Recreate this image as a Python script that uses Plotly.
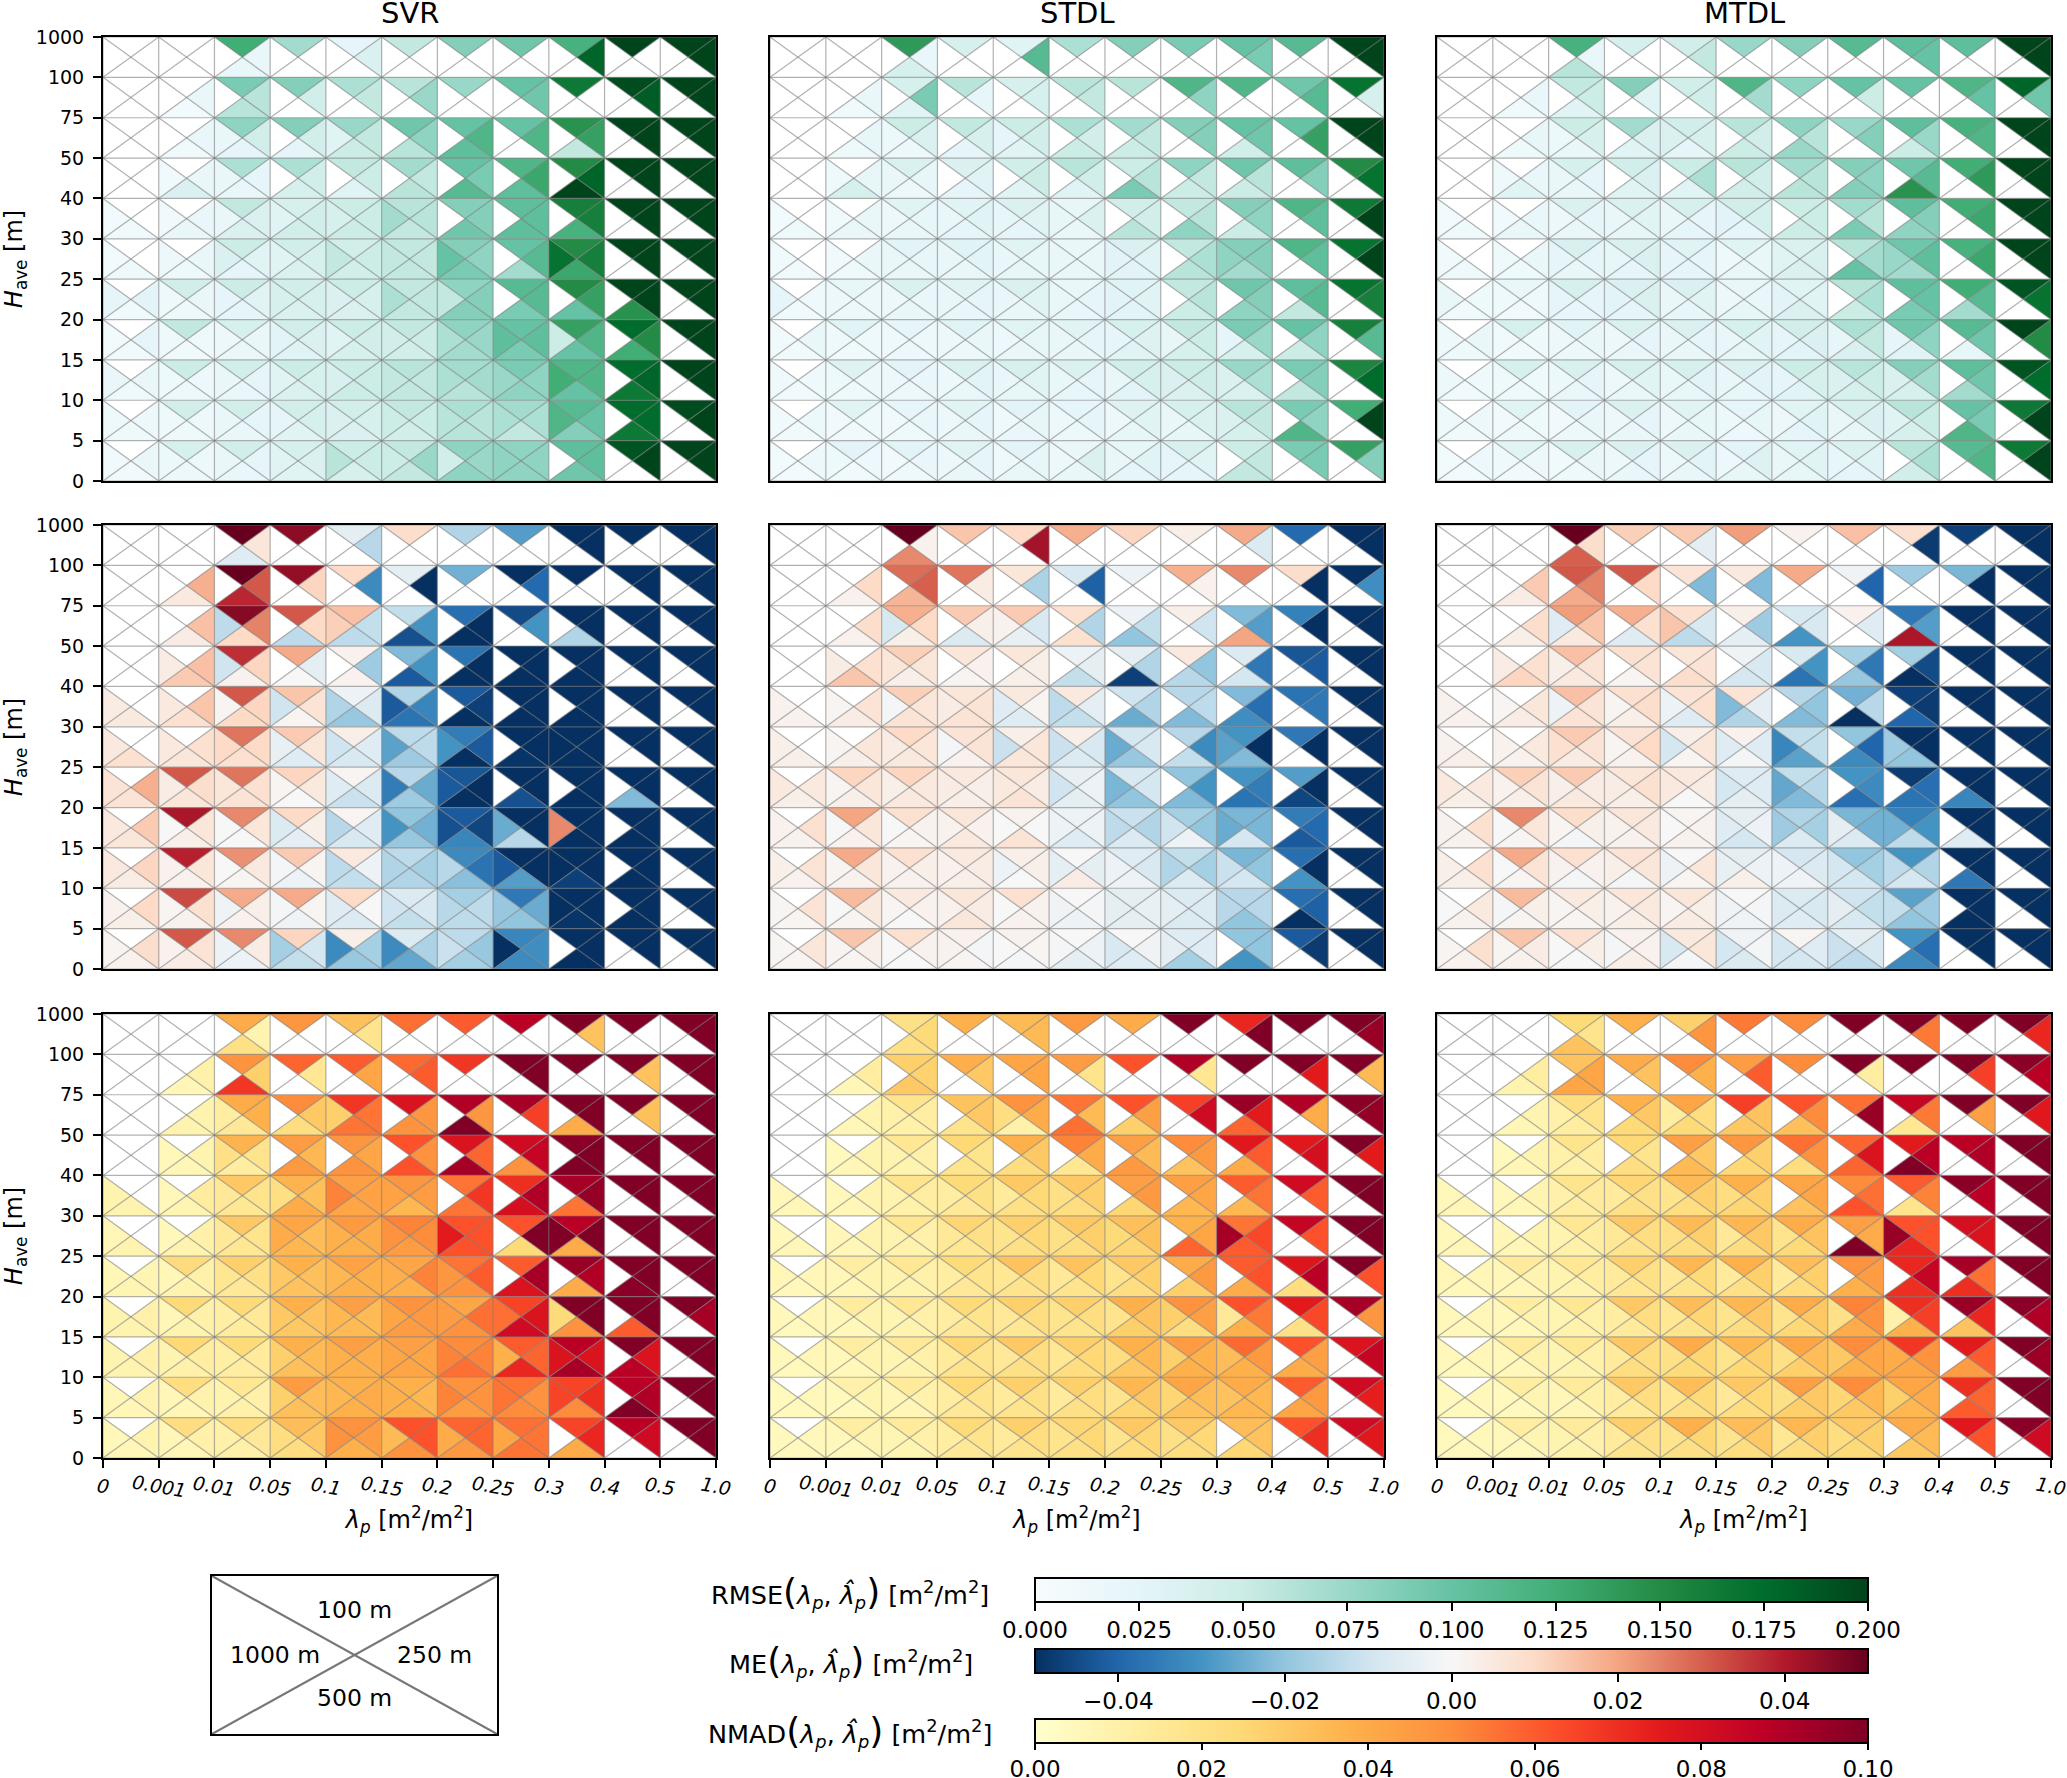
import plotly.graph_objects as go
from plotly.colors import get_colorscale, sample_colorscale

# Values are in thousandths of m2/m2. Each row (top band first) holds, per lambda_p cell,
# the triangles: top (100 m), right (250 m), bottom (500 m), left (1000 m). None = no data.
x_labels = ["0", "0.001", "0.01", "0.05", "0.1", "0.15", "0.2", "0.25", "0.3", "0.4", "0.5", "1.0"]
y_labels = ["0", "5", "10", "15", "20", "25", "30", "40", "50", "75", "100", "1000"]
model_names = ["SVR", "STDL", "MTDL"]
n = None
E = (n, n, n, n)

svr_rmse = [
 [*E,*E, 125,20,20,n, 70,n,n,n, 25,35,n,n, 55,n,n,n, 85,n,n,n, 95,n,n,n, 120,180,n,n, 200,n,n,n, 200,200,n,n],
 [*E, n,18,8,n, 90,60,60,n, 85,45,n,n, 65,55,n,n, 60,75,n,n, 75,n,n,n, 100,95,n,n, 165,n,n,n, 195,185,n,n, 200,200,n,n],
 [*E, n,20,10,n, 80,45,25,20, 85,45,25,n, 75,55,50,30, 95,80,60,n, 100,115,105,n, 100,115,n,n, 145,135,55,n, 200,200,n,n, 200,200,n,n],
 [*E, n,20,35,10, 65,25,20,18, 65,45,40,n, 55,50,30,n, 70,55,60,n, 100,90,110,n, 115,130,105,n, 150,180,200,n, 200,200,n,n, 200,200,n,n],
 [n,n,10,8, n,20,20,10, 55,35,35,18, 40,45,45,30, 50,50,50,40, 60,60,55,70, 85,85,95,n, 105,105,105,n, 160,160,120,n, 200,200,n,n, 200,200,n,n],
 [n,n,12,8, n,20,12,15, 50,30,25,35, 45,40,35,30, 45,50,45,55, 55,55,55,55, 85,80,90,100, 100,110,70,n, 150,160,130,170, 200,200,n,n, 200,200,n,n],
 [n,28,10,25, 45,20,12,12, 50,30,25,25, 45,40,35,40, 50,40,35,35, 55,55,55,65, 80,85,85,55, 110,110,90,n, 150,135,100,n, 200,200,145,n, 200,200,n,n],
 [n,25,10,8, 55,12,10,12, 40,20,18,15, 45,35,30,28, 50,45,40,30, 55,50,45,45, 80,75,70,65, 100,105,90,105, 135,115,100,50, 175,150,125,n, 200,200,n,n],
 [n,20,12,20, 50,15,15,12, 45,25,20,20, 50,40,35,30, 50,50,50,38, 60,55,55,55, 70,70,60,65, 90,80,80,75, 115,115,100,125, 175,180,165,n, 200,200,n,n],
 [n,15,12,12, 45,15,12,12, 45,25,18,20, 45,40,30,25, 45,40,35,35, 55,50,45,50, 65,60,60,60, 70,65,55,65, 110,100,85,115, 175,175,165,n, 195,200,n,n],
 [n,20,10,10, 40,15,15,15, 45,25,20,20, 40,35,30,30, 50,50,40,60, 55,75,55,50, 80,75,80,45, 80,80,80,80, 105,105,95,n, 190,200,n,n, 200,200,n,n],
]
stdl_rmse = [
 [*E,*E, 140,20,40,n, 40,n,n,n, 30,110,n,n, 65,n,n,n, 85,n,n,n, 90,n,n,n, 100,90,n,n, 110,n,n,n, 200,200,n,n],
 [*E, n,20,10,n, 40,90,30,n, 60,22,n,n, 40,40,n,n, 60,55,n,n, 60,n,n,n, 115,80,n,n, 115,n,n,n, 95,110,n,n, 170,40,n,n],
 [*E, n,22,12,n, 50,35,15,15, 55,40,25,n, 50,45,30,25, 65,45,50,n, 70,55,50,n, 85,85,n,n, 100,95,45,n, 100,135,n,n, 200,200,n,n],
 [*E, n,22,40,12, 35,22,15,18, 35,30,25,n, 45,50,30,n, 60,45,30,n, 50,60,90,n, 80,55,50,n, 95,60,50,n, 105,85,n,n, 150,170,n,n],
 [n,n,12,8, n,18,18,10, 30,22,18,14, 30,30,25,18, 35,30,25,22, 22,35,20,22, 45,45,60,n, 55,60,80,n, 85,80,50,n, 115,105,n,n, 165,200,n,n],
 [n,n,10,10, n,18,12,10, 28,22,18,18, 30,28,20,20, 30,22,22,20, 20,20,20,18, 35,30,28,28, 55,65,60,n, 85,85,70,80, 115,105,n,n, 170,200,n,n],
 [n,12,10,25, 22,15,15,15, 35,20,18,15, 30,25,20,18, 35,30,20,18, 20,25,20,18, 30,30,28,28, 55,60,50,n, 95,85,80,n, 105,110,55,n, 170,160,n,n],
 [n,18,10,10, 30,12,10,12, 25,14,15,12, 30,20,15,15, 30,22,18,15, 30,25,20,18, 40,32,30,25, 55,50,40,22, 90,75,40,25, 100,80,50,n, 160,110,n,n],
 [n,12,10,12, 32,15,12,12, 28,20,15,15, 35,28,18,15, 40,30,22,18, 35,25,22,20, 45,40,28,20, 50,48,35,35, 75,65,35,35, 90,85,55,n, 155,175,n,n],
 [n,15,10,10, 30,12,10,10, 25,18,12,10, 30,25,18,15, 28,22,18,12, 25,25,15,15, 32,30,22,15, 40,35,22,20, 60,55,40,35, 90,80,115,n, 125,200,n,n],
 [n,15,8,8, 28,15,10,12, 28,18,12,10, 30,25,20,15, 28,22,18,12, 20,35,18,15, 22,30,25,20, 38,30,25,25, 50,55,55,n, 90,90,n,n, 135,85,n,n],
]
mtdl_rmse = [
 [*E,*E, 120,18,60,n, 40,n,n,n, 45,55,n,n, 75,n,n,n, 85,n,n,n, 110,n,n,n, 105,100,n,n, 105,n,n,n, 200,200,n,n],
 [*E, n,20,10,n, 55,50,30,n, 85,30,n,n, 45,45,n,n, 115,70,n,n, 80,n,n,n, 100,50,n,n, 100,n,n,n, 115,100,n,n, 180,95,n,n],
 [*E, n,22,12,n, 50,40,18,15, 70,35,30,n, 45,40,25,35, 60,45,50,n, 80,60,75,n, 75,85,n,n, 105,75,50,n, 120,115,n,n, 200,200,n,n],
 [*E, n,20,30,12, 40,25,20,20, 45,35,30,n, 50,65,30,n, 60,45,45,n, 70,60,60,n, 85,80,85,n, 95,110,145,n, 125,140,n,n, 200,200,n,n],
 [n,n,12,8, n,18,18,10, 35,25,18,14, 35,30,22,18, 40,25,25,18, 45,40,25,28, 50,50,50,n, 70,60,90,n, 105,85,80,n, 125,130,n,n, 200,200,n,n],
 [n,n,12,10, n,20,12,12, 38,25,20,25, 35,35,25,22, 30,25,25,25, 30,20,20,12, 35,38,35,30, 60,70,100,n, 95,105,70,75, 120,130,n,n, 200,200,n,n],
 [n,12,10,18, 20,12,10,12, 40,25,20,25, 35,35,25,28, 35,30,22,20, 20,20,22,15, 30,30,35,28, 60,65,50,n, 105,100,90,n, 125,110,70,n, 190,170,n,n],
 [n,20,12,12, 40,12,10,10, 30,18,15,15, 35,25,18,15, 35,25,20,18, 40,30,22,20, 45,35,28,25, 65,55,35,22, 95,80,30,25, 110,95,22,n, 200,150,n,n],
 [n,12,10,15, 40,12,12,12, 38,25,18,15, 40,30,20,15, 40,28,22,18, 35,28,22,20, 50,40,30,25, 60,50,40,35, 85,70,40,35, 105,95,70,n, 190,175,n,n],
 [n,15,10,12, 30,12,12,10, 28,20,14,10, 35,25,18,14, 30,22,18,14, 25,22,15,15, 30,30,25,15, 40,35,22,18, 60,50,40,30, 100,90,115,n, 165,200,n,n],
 [n,15,8,8, 30,15,10,12, 38,20,12,10, 35,25,18,15, 35,28,20,14, 28,32,22,15, 30,30,22,20, 35,30,25,22, 60,65,45,n, 110,115,n,n, 165,200,n,n],
]
svr_me = [
 [*E,*E, 50,6,-6,n, 45,n,n,n, -5,-14,n,n, 9,n,n,n, -15,n,n,n, -28,n,n,n, -50,-50,n,n, -50,n,n,n, -50,-50,n,n],
 [*E, n,18,5,n, 50,31,38,n, 44,11,n,n, 10,-32,n,n, -5,-50,n,n, -24,n,n,n, -50,-39,n,n, -50,n,n,n, -50,-50,n,n, -50,-50,n,n],
 [*E, n,15,4,n, 46,25,10,-13, 31,10,-13,n, 15,-12,-13,12, -12,-30,-44,n, -38,-50,-50,n, -45,-30,n,n, -50,-50,-15,n, -50,-50,n,n, -50,-50,n,n],
 [*E, n,15,13,4, 37,11,2,-10, 19,-5,0,n, 2,-18,2,n, -22,-30,-42,n, -37,-50,-50,n, -50,-50,-50,n, -50,-50,-50,n, -50,-50,n,n, -50,-50,n,n],
 [n,n,5,4, n,14,8,5, 31,11,10,1, 14,7,1,-10, -3,-7,-19,-15, -15,-33,-37,-42, -42,-47,-50,n, -50,-50,-50,n, -50,-50,-50,n, -50,-50,n,n, -50,-50,n,n],
 [n,n,8,5, n,8,6,5, 27,10,8,10, 13,6,-6,-4, 3,-6,-8,-10, -13,-13,-18,-27, -35,-42,-50,-30, -50,-50,-49,n, -50,-50,-50,-50, -50,-50,n,n, -50,-50,n,n],
 [n,18,7,7, 31,9,6,4, 27,8,7,6, 11,5,0,1, 1,-7,-11,-6, -14,-25,-18,-35, -43,-50,-50,-42, -50,-50,-44,n, -50,-50,-50,n, -50,-50,-22,n, -50,-50,n,n],
 [n,13,6,5, 41,6,3,0, 24,6,0,0, 10,3,-5,-7, 1,-6,-8,-14, -20,-24,-19,-30, -42,-46,-33,-44, -50,-50,-14,-25, -50,-50,-50,24, -50,-50,-50,n, -50,-50,n,n],
 [n,11,4,5, 39,6,2,2, 23,5,1,0, 13,1,-3,-1, 5,-3,-12,-13, -13,-17,-15,-15, -32,-37,-21,-14, -50,-50,-28,-42, -50,-50,-47,-50, -50,-50,-50,n, -50,-50,n,n],
 [n,10,3,2, 33,8,2,1, 19,3,2,-2, 19,1,-2,-1, 10,0,-7,-6, -7,-8,-12,-10, -17,-13,-13,-14, -36,-25,-20,-19, -50,-50,-49,-50, -50,-50,-50,n, -50,-50,n,n],
 [n,9,2,1, 31,7,4,2, 24,4,-3,-3, 11,-9,-12,-17, 3,-17,-19,-32, -7,-16,-26,-32, -13,-19,-17,-11, -33,-31,-32,-50, -50,-50,-50,n, -50,-50,n,n, -50,-50,n,n],
]
stdl_me = [
 [*E,*E, 50,2,24,n, 14,n,n,n, 10,42,n,n, 18,n,n,n, 11,n,n,n, 3,n,n,n, 19,-7,n,n, -39,n,n,n, -50,-50,n,n],
 [*E, n,10,2,n, 28,30,17,n, 27,4,n,n, 6,-16,n,n, -8,-41,n,n, -3,n,n,n, 18,2,n,n, 24,n,n,n, 9,-50,n,n, -50,-31,n,n],
 [*E, n,9,2,n, 18,10,3,-8, 13,3,-7,n, 13,-8,-4,2, 8,-15,8,n, -3,-12,-20,n, 3,-10,n,n, -22,-28,20,n, -34,-50,n,n, -50,-50,n,n],
 [*E, n,8,14,4, 12,6,3,6, 6,2,1,n, 6,3,3,n, -3,-5,-12,n, -5,-15,-47,n, 5,-20,-14,n, -7,-36,-9,n, -43,-42,n,n, -50,-50,n,n],
 [n,n,2,2, n,7,4,1, 12,6,7,-1, 6,7,7,4, 5,1,-6,-6, 5,-5,-12,-13, -10,-15,-25,n, -14,-13,-22,n, -22,-38,-31,n, -37,-36,n,n, -50,-50,n,n],
 [n,n,3,3, n,6,3,1, 10,6,5,4, 7,7,2,-1, 3,6,6,-11, 3,-8,-7,-11, -9,-8,-19,-25, -14,-32,-12,n, -30,-50,-22,-27, -36,-50,n,n, -50,-50,n,n],
 [n,5,3,5, 11,6,3,1, 11,5,5,3, 5,3,3,4, 6,4,7,5, -4,-3,-5,-10, -8,-9,-20,-23, -20,-30,-22,n, -30,-35,-37,n, -28,-50,-46,n, -50,-50,n,n],
 [n,8,2,2, 20,6,2,0, 8,2,1,0, 6,2,5,2, 2,0,7,0, -3,-3,-6,-3, -11,-15,-7,-13, -17,-20,-3,-10, -23,-23,-9,-25, -35,-39,-42,n, -50,-50,n,n],
 [n,7,2,3, 19,6,2,1, 8,3,2,2, 5,4,3,2, 3,3,0,-3, 0,-5,4,-5, -6,-8,-3,-3, -12,-17,-7,-15, -23,-20,-9,-11, -38,-50,-30,n, -50,-50,n,n],
 [n,7,1,1, 16,5,1,0, 5,2,0,1, 6,4,6,2, 8,2,2,0, 0,-1,-3,-2, -5,-4,-5,-5, -7,-7,-7,-5, -14,-14,-20,-14, -38,-41,-50,n, -50,-50,n,n],
 [n,6,1,1, 14,3,1,1, 8,2,0,0, 2,-1,1,2, 2,1,-1,0, 0,-3,-5,-1, 0,-2,-6,-8, -6,-6,-17,-5, -20,-20,-30,n, -42,-48,n,n, -50,-50,n,n],
]
mtdl_me = [
 [*E,*E, 50,9,30,n, 12,n,n,n, 13,-5,n,n, 21,n,n,n, 2,n,n,n, 15,n,n,n, 8,-48,n,n, -47,n,n,n, -50,-50,n,n],
 [*E, n,13,4,n, 31,25,19,n, 31,10,n,n, 7,-22,n,n, 5,-22,n,n, 19,n,n,n, -2,-40,n,n, -18,n,n,n, -23,-50,n,n, -50,-50,n,n],
 [*E, n,9,3,n, 21,14,5,-6, 18,8,-6,n, 8,-8,-13,14, 3,-18,-5,n, -8,-8,-30,n, 2,-6,n,n, -36,-28,41,n, -50,-50,n,n, -50,-50,n,n],
 [*E, n,8,11,4, 15,7,5,3, 8,7,1,n, 6,7,9,n, -2,-8,-9,n, -8,-30,-37,n, -17,-36,-19,n, -17,-45,-50,n, -50,-50,n,n, -50,-50,n,n],
 [n,n,2,2, n,6,4,1, 15,7,7,-3, 8,9,3,1, 7,8,-6,-3, 7,-5,-15,-22, -14,-20,-22,n, -24,-14,-50,n, -47,-48,-40,n, -50,-50,n,n, -50,-50,n,n],
 [n,n,3,2, n,5,2,2, 13,7,4,8, 7,10,2,1, 3,6,1,-9, 2,-6,-1,-6, -12,-12,-27,-33, -20,-40,-32,n, -50,-50,-20,-18, -50,-50,n,n, -50,-50,n,n],
 [n,5,3,5, 12,7,3,2, 13,4,5,3, 6,8,3,4, 5,4,0,5, -6,-6,-5,-9, -12,-14,-22,-26, -30,-32,-38,n, -48,-38,-37,n, -50,-50,-33,n, -50,-50,n,n],
 [n,8,2,2, 24,6,1,0, 9,3,-1,1, 6,5,2,2, 1,2,2,0, -5,-3,-9,-6, -15,-17,-7,-18, -23,-24,-7,-5, -34,-30,-13,-24, -50,-50,-6,n, -50,-50,n,n],
 [n,8,3,3, 19,7,1,0, 8,2,-1,2, 7,6,-1,3, 0,6,1,-3, -5,-3,3,-4, -9,-7,-2,-3, -20,-17,-9,-9, -30,-15,-9,-13, -50,-50,-36,n, -50,-50,n,n],
 [n,5,2,0, 16,3,1,-1, 5,3,1,1, 6,5,3,2, 6,3,4,1, 0,-1,-2,-2, -7,-8,-6,-7, -10,-12,-8,-5, -27,-18,-20,-12, -50,-50,-50,n, -50,-50,n,n],
 [n,8,2,1, 14,4,2,1, 8,3,0,0, 2,2,3,-1, 5,6,-1,-8, -2,-1,-7,-9, 1,-6,-9,-9, -5,-8,-13,-11, -30,-38,-32,n, -50,-50,n,n, -50,-50,n,n],
]
svr_nmad = [
 [*E,*E, 40,8,20,n, 47,n,n,n, 33,18,n,n, 56,n,n,n, 60,n,n,n, 88,n,n,n, 100,32,n,n, 100,n,n,n, 100,100,n,n],
 [*E, n,10,6,n, 48,28,68,n, 58,16,n,n, 60,42,n,n, 57,60,n,n, 68,n,n,n, 100,100,n,n, 100,n,n,n, 100,32,n,n, 100,100,n,n],
 [*E, n,8,8,n, 40,38,15,12, 50,30,22,n, 68,55,55,28, 78,47,48,n, 90,47,100,n, 92,66,n,n, 100,100,40,n, 100,33,n,n, 100,100,n,n],
 [*E, n,8,6,5, 37,18,12,20, 45,36,46,n, 47,42,48,n, 62,48,62,n, 78,58,92,n, 82,85,48,n, 98,100,100,n, 100,100,n,n, 100,100,n,n],
 [n,n,8,8, n,13,7,5, 30,18,16,15, 37,33,40,21, 44,43,42,52, 47,45,36,43, 55,68,55,n, 70,90,80,n, 92,96,55,n, 100,100,n,n, 100,100,n,n],
 [n,n,8,6, n,10,8,5, 30,18,16,15, 42,34,36,40, 46,40,38,38, 52,50,45,48, 62,62,62,75, 62,100,24,n, 88,100,40,100, 100,100,n,n, 100,100,n,n],
 [n,7,7,6, 23,10,8,6, 28,20,15,17, 38,33,32,30, 43,38,38,36, 42,52,38,39, 55,60,48,47, 60,92,78,n, 95,90,40,n, 100,100,98,n, 100,100,n,n],
 [n,10,8,8, 24,10,8,6, 24,15,13,11, 38,32,30,30, 44,35,35,36, 48,46,45,42, 42,56,48,45, 65,78,82,56, 100,100,48,24, 100,100,60,n, 100,92,n,n],
 [n,10,8,8, 25,12,10,8, 24,14,12,11, 38,35,33,28, 44,39,38,38, 44,42,42,42, 50,52,56,52, 60,58,72,38, 88,78,92,78, 100,78,88,n, 100,100,n,n],
 [n,8,6,6, 22,9,6,6, 16,10,10,8, 45,34,33,28, 38,40,38,36, 38,36,38,38, 48,48,45,52, 55,48,50,55, 65,70,50,65, 88,90,100,n, 100,100,n,n],
 [n,8,6,5, 22,10,6,6, 22,15,10,10, 34,30,22,22, 48,45,38,48, 62,62,48,35, 58,58,46,40, 56,55,55,42, 65,72,40,n, 88,82,n,n, 100,100,n,n],
]
stdl_nmad = [
 [*E,*E, 20,24,20,n, 38,n,n,n, 35,35,n,n, 46,n,n,n, 40,n,n,n, 100,n,n,n, 72,100,n,n, 100,n,n,n, 100,95,n,n],
 [*E, n,12,6,n, 28,27,30,n, 39,30,n,n, 42,42,n,n, 45,18,n,n, 62,n,n,n, 90,16,n,n, 100,n,n,n, 100,75,n,n, 100,35,n,n],
 [*E, n,8,6,n, 18,12,10,10, 32,30,18,n, 48,40,10,22, 55,35,56,n, 62,44,28,n, 66,82,n,n, 95,75,58,n, 90,40,n,n, 98,96,n,n],
 [*E, n,8,6,4, 16,10,8,8, 25,18,18,n, 38,30,22,n, 52,40,16,n, 44,35,46,n, 50,46,32,n, 76,60,40,n, 76,80,n,n, 100,75,n,n],
 [n,n,6,5, n,8,6,5, 18,12,10,8, 24,20,15,12, 30,25,20,14, 30,28,22,20, 44,46,26,n, 44,42,36,n, 60,55,36,n, 82,60,n,n, 100,100,n,n],
 [n,n,6,5, n,8,6,6, 17,10,9,8, 26,20,16,15, 28,25,20,18, 30,28,22,20, 33,33,26,24, 38,42,58,n, 55,64,60,92, 85,62,n,n, 100,100,n,n],
 [n,6,5,6, 12,8,6,6, 16,10,8,8, 24,18,15,12, 32,22,18,16, 32,25,18,15, 30,28,22,18, 40,46,28,n, 60,62,40,n, 77,88,22,n, 100,62,n,n],
 [n,6,4,5, 13,8,5,5, 16,10,8,7, 24,18,15,12, 28,22,16,15, 28,22,18,18, 38,32,28,18, 48,44,22,28, 62,54,38,15, 75,64,20,n, 92,47,n,n],
 [n,6,4,5, 12,8,5,5, 15,10,8,7, 26,18,18,14, 30,22,20,15, 28,25,22,16, 38,36,30,22, 45,38,38,28, 57,46,38,34, 62,44,40,n, 78,85,n,n],
 [n,5,4,4, 10,7,4,4, 14,9,6,6, 25,18,15,12, 28,20,18,14, 28,22,20,14, 36,30,26,18, 42,34,32,26, 40,36,36,32, 60,46,42,n, 82,74,n,n],
 [n,5,4,4, 12,7,4,5, 14,10,7,7, 24,18,15,12, 28,22,18,14, 26,25,20,18, 30,26,22,18, 30,25,22,20, 34,32,25,n, 62,70,n,n, 82,76,n,n],
]
mtdl_nmad = [
 [*E,*E, 24,18,32,n, 38,n,n,n, 28,47,n,n, 54,n,n,n, 50,n,n,n, 100,n,n,n, 100,54,n,n, 100,n,n,n, 100,72,n,n],
 [*E, n,12,8,n, 32,42,42,n, 40,32,n,n, 50,38,n,n, 45,60,n,n, 50,n,n,n, 100,12,n,n, 100,n,n,n, 100,66,n,n, 98,88,n,n],
 [*E, n,8,6,n, 22,18,12,10, 38,30,24,n, 42,22,24,12, 66,32,30,n, 62,50,33,n, 56,95,n,n, 85,54,16,n, 100,44,n,n, 100,76,n,n],
 [*E, n,8,6,4, 18,12,10,10, 25,18,22,n, 44,30,35,n, 47,28,25,n, 56,48,22,n, 58,78,58,n, 75,88,100,n, 88,90,n,n, 100,100,n,n],
 [n,n,6,5, n,8,6,5, 18,14,12,10, 26,20,20,14, 35,28,22,18, 38,28,26,22, 42,42,32,n, 50,56,62,n, 60,52,18,n, 98,88,n,n, 100,100,n,n],
 [n,n,6,5, n,8,6,6, 16,12,10,8, 30,22,18,15, 35,28,22,20, 36,30,22,15, 40,32,24,18, 44,40,100,n, 62,62,72,95, 80,78,n,n, 100,100,n,n],
 [n,6,5,6, 14,8,6,6, 16,12,8,8, 28,20,16,14, 36,24,18,15, 38,28,20,14, 34,28,22,14, 48,45,38,n, 72,85,70,n, 92,56,70,n, 100,100,n,n],
 [n,6,5,5, 12,8,5,5, 16,10,9,7, 30,22,14,12, 34,26,18,16, 36,30,22,18, 40,30,25,18, 52,48,40,20, 70,66,38,10, 95,72,32,n, 98,90,n,n],
 [n,6,4,5, 14,9,5,5, 16,10,8,7, 30,22,22,14, 40,26,24,20, 36,28,25,18, 42,34,28,20, 50,42,38,30, 68,48,42,40, 75,60,45,n, 100,94,n,n],
 [n,5,4,4, 12,7,4,4, 14,10,6,6, 30,22,14,12, 34,24,20,16, 30,25,22,15, 44,30,28,20, 50,36,30,26, 42,40,36,28, 70,58,60,n, 100,100,n,n],
 [n,5,4,4, 12,7,4,5, 14,10,8,8, 28,20,18,14, 38,26,20,18, 34,30,22,18, 36,28,22,16, 30,28,24,22, 40,35,30,n, 76,62,n,n, 98,82,n,n],
]

W, H = 2067, 1778
col_px = [(103, 716), (770, 1384), (1437, 2051)]
row_px = [(37, 481), (525, 969), (1014, 1458)]
FONT = "DejaVu Sans"

metrics = [
    ("RMSE", get_colorscale("BuGn"), 0, 200, (svr_rmse, stdl_rmse, mtdl_rmse), 1578),
    ("ME", get_colorscale("RdBu_r"), -50, 50, (svr_me, stdl_me, mtdl_me), 1649),
    ("NMAD", get_colorscale("YlOrRd"), 0, 100, (svr_nmad, stdl_nmad, mtdl_nmad), 1719),
]
cbar_ticks = [
    dict(tick0=0, dtick=0.025, tickformat=".3f", ticklen=8),
    dict(tick0=-0.04, dtick=0.02, tickformat=".2f", ticklen=8),
    dict(tick0=0, dtick=0.02, tickformat=".2f", ticklen=6),
]

fig = go.Figure()
layout = {}
annotations = []
NC, NR = len(x_labels) - 1, len(y_labels) - 1


def triangle(k, c, r):
    # r counted from the bottom of the grid
    mid = (c + 0.5, r + 0.5)
    corners = [
        ((c, r + 1), (c + 1, r + 1)),
        ((c + 1, r + 1), (c + 1, r)),
        ((c + 1, r), (c, r)),
        ((c, r), (c, r + 1)),
    ][k]
    return [corners[0][0], corners[1][0], mid[0], corners[0][0], None], [corners[0][1], corners[1][1], mid[1], corners[0][1], None]


ax = 0
for mi, (mname, scale, vmin, vmax, panels, bar_top) in enumerate(metrics):
    for ci, data in enumerate(panels):
        ax += 1
        xn, yn = f"x{ax}", f"y{ax}"
        xa = dict(
            domain=[col_px[ci][0] / W, col_px[ci][1] / W], range=[0, NC], anchor=yn,
            showgrid=False, zeroline=False, showline=True, mirror=True, linecolor="black", linewidth=2,
            tickmode="array", tickvals=list(range(NC + 1)),
            ticks="outside" if mi == 2 else "", ticklen=8, tickwidth=2, tickcolor="black",
            showticklabels=False,
        )
        ya = dict(
            domain=[1 - row_px[mi][1] / H, 1 - row_px[mi][0] / H], range=[0, NR], anchor=xn,
            showgrid=False, zeroline=False, showline=True, mirror=True, linecolor="black", linewidth=2,
            tickmode="array", tickvals=list(range(NR + 1)), ticktext=y_labels,
            ticks="outside" if ci == 0 else "", ticklen=8, tickwidth=2, tickcolor="black",
            ticklabelstandoff=5,
            showticklabels=ci == 0, tickfont=dict(family=FONT, size=19, color="black"),
        )
        if mi == 2:
            xa["title"] = dict(text="<i>λ<sub>p</sub></i> [m<sup>2</sup>/m<sup>2</sup>]",
                               font=dict(family=FONT, size=24, color="black"), standoff=44)
            for i, lab in enumerate(x_labels):
                annotations.append(dict(text=lab, xref=xn, yref="paper", x=i, y=1 - 1486 / H, showarrow=False,
                                        textangle=10, xanchor="center", yanchor="middle",
                                        font=dict(family=FONT, size=19, style="italic", color="black")))
        if ci == 0:
            ya["title"] = dict(text="<i>H</i><sub>ave</sub> [m]",
                               font=dict(family=FONT, size=24, color="black"), standoff=7)
        layout["xaxis" if ax == 1 else f"xaxis{ax}"] = xa
        layout["yaxis" if ax == 1 else f"yaxis{ax}"] = ya

        groups = {}
        for ri, row in enumerate(data):
            for c in range(NC):
                for k in range(4):
                    v = row[c * 4 + k]
                    if v is None:
                        continue
                    tx, ty = triangle(k, c, NR - 1 - ri)
                    g = groups.setdefault(v, ([], []))
                    g[0].extend(tx)
                    g[1].extend(ty)
        for v, (gx, gy) in sorted(groups.items()):
            col = sample_colorscale(scale, [(v - vmin) / (vmax - vmin)])[0]
            fig.add_trace(go.Scatter(x=gx, y=gy, xaxis=xn, yaxis=yn, mode="lines", fill="toself",
                                     fillcolor=col, line=dict(width=0, color=col), hoverinfo="skip", showlegend=False))
        # grey triangle outlines
        lx, ly = [], []
        for i in range(NC + 1):
            lx += [i, i, None]; ly += [0, NR, None]
        for j in range(NR + 1):
            lx += [0, NC, None]; ly += [j, j, None]
        for i in range(NC):
            for j in range(NR):
                lx += [i, i + 1, None, i, i + 1, None]
                ly += [j, j + 1, None, j + 1, j, None]
        fig.add_trace(go.Scatter(x=lx, y=ly, xaxis=xn, yaxis=yn, mode="lines",
                                 line=dict(width=1.2, color="rgba(125,125,125,0.6)"),
                                 hoverinfo="skip", showlegend=False))

    # colour bar for this metric
    fig.add_trace(go.Scatter(
        x=[None, None], y=[None, None], xaxis="x", yaxis="y", mode="markers", showlegend=False,
        marker=dict(size=0, color=[vmin / 1000, vmax / 1000], cmin=vmin / 1000, cmax=vmax / 1000, colorscale=scale,
                    showscale=True,
                    colorbar=dict(orientation="h", x=1035 / W, xanchor="left", y=1 - bar_top / H, yanchor="top",
                                  len=833 / W, lenmode="fraction", thickness=24, thicknessmode="pixels",
                                  xpad=0, ypad=0, outlinewidth=2, outlinecolor="black", borderwidth=0,
                                  ticks="outside", tickwidth=2, tickcolor="black",
                                  tickfont=dict(family=FONT, size=23, color="black"), **cbar_ticks[mi]))))

for ci, name in enumerate(model_names):
    annotations.append(dict(text=name, xref="paper", yref="paper", x=sum(col_px[ci]) / 2 / W, y=1 - 13 / H,
                            xanchor="center", yanchor="middle", showarrow=False,
                            font=dict(family=FONT, size=29, color="black")))

par = '<span style="font-size:36px">%s</span>'
hat = "λ\u0302"
for label, cx, cy in (("RMSE", 850, 1592), ("ME", 851, 1661), ("NMAD", 850, 1731)):
    text = (label + par % "(" + "<i>λ<sub>p</sub></i>, <i>" + hat + "<sub>p</sub></i>" + par % ")"
            + " [m<sup>2</sup>/m<sup>2</sup>]")
    annotations.append(dict(text=text, xref="paper", yref="paper", x=cx / W, y=1 - cy / H, showarrow=False,
                            xanchor="center", yanchor="middle", font=dict(family=FONT, size=25.5, color="black")))

# key showing which triangle stands for which footprint
key_ax = ax + 1
layout[f"xaxis{key_ax}"] = dict(domain=[212 / W, 497 / W], range=[0, 1], anchor=f"y{key_ax}", showgrid=False,
                                zeroline=False, showticklabels=False, ticks="", showline=True, mirror=True,
                                linecolor="black", linewidth=2)
layout[f"yaxis{key_ax}"] = dict(domain=[1 - 1734 / H, 1 - 1576 / H], range=[0, 1], anchor=f"x{key_ax}", showgrid=False,
                                zeroline=False, showticklabels=False, ticks="", showline=True, mirror=True,
                                linecolor="black", linewidth=2)
fig.add_trace(go.Scatter(x=[0, 1, None, 0, 1], y=[0, 1, None, 1, 0], xaxis=f"x{key_ax}", yaxis=f"y{key_ax}",
                         mode="lines", line=dict(width=2.2, color="#777777"), hoverinfo="skip", showlegend=False))
for txt, kx, ky in (("100 m", 0.5, 0.785), ("250 m", 0.78, 0.5), ("500 m", 0.5, 0.225), ("1000 m", 0.22, 0.5)):
    annotations.append(dict(text=txt, xref=f"x{key_ax}", yref=f"y{key_ax}", x=kx, y=ky, showarrow=False,
                            xanchor="center", yanchor="middle", font=dict(family=FONT, size=23.5, color="black")))

fig.update_layout(width=W, height=H, autosize=False, margin=dict(l=0, r=0, t=0, b=0, autoexpand=False), showlegend=False,
                  paper_bgcolor="white", plot_bgcolor="white", font=dict(family=FONT, color="black"),
                  annotations=annotations, **layout)
fig.write_html("out.html", config={"displayModeBar": False}, post_script="document.body.style.margin='0';")
